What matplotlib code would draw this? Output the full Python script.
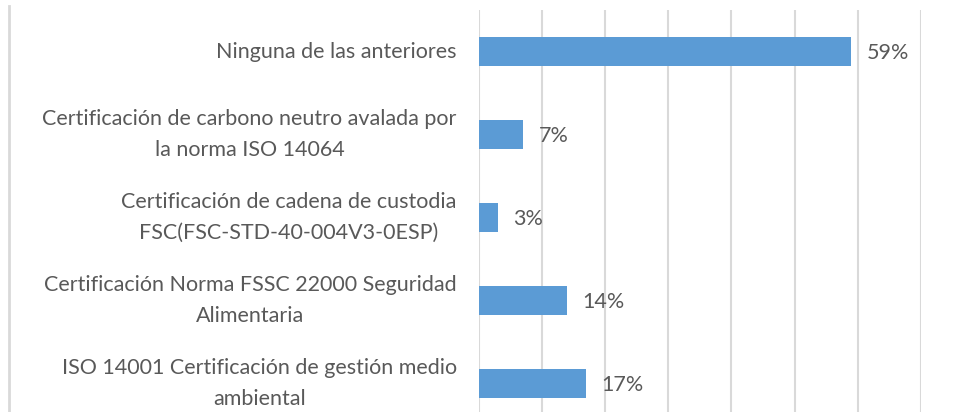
import numpy as np
import matplotlib.pyplot as plt
from matplotlib.lines import Line2D

categories = [
    "Ninguna de las anteriores",
    "Certificación de carbono neutro avalada por\nla norma ISO 14064",
    "Certificación de cadena de custodia\nFSC(FSC-STD-40-004V3-0ESP)",
    "Certificación Norma FSSC 22000 Seguridad\nAlimentaria",
    "ISO 14001 Certificación de gestión medio\nambiental",
]
values = [0.59, 0.07, 0.03, 0.14, 0.17]
value_labels = ["59%", "7%", "3%", "14%", "17%"]

BAR = '#5B9BD5'; GRID = '#D9D9D9'; TXT = '#595959'
plt.rcParams['font.family'] = 'Lato'
FS = 15.5

fig = plt.figure(figsize=(9.59, 4.12), dpi=100)
ax = fig.add_axes([479 / 959, 0, (920.7 - 479) / 959, 1 - 10 / 412])

y = np.arange(len(categories))
ax.barh(y, values, height=0.35, color=BAR, zorder=3)
for yi, v, s in zip(y, values, value_labels):
    ax.annotate(s, (v, yi), xytext=(11, -1), textcoords='offset points',
                va='center', ha='left', fontsize=FS, color=TXT)

ax.set_xlim(0, 0.70)
ax.set_ylim((412 - 51.5) / 83, -0.5)
ax.set_xticks(np.arange(0, 0.71, 0.10))
ax.set_xticklabels([])
ax.grid(axis='x', color=GRID, lw=1.5, zorder=0)
ax.tick_params(axis='x', length=0)
ax.set_yticks([])
for sp in ax.spines.values():
    sp.set_visible(False)

# category labels: each line drawn separately, centred on the widest line,
# whose right edge sits 16 pt left of the axis
r = fig.canvas.get_renderer()
right = ax.transAxes.transform((0, 0))[0] - 16 * fig.dpi / 72
lh = FS * 1.45 * fig.dpi / 72
for yi, c in zip(y, categories):
    lines = c.split('\n')
    yc = ax.transData.transform((0, yi))[1]
    tmp = [fig.text(0, 0, s, fontsize=FS) for s in lines]
    w = max(t.get_window_extent(r).width for t in tmp)
    for t in tmp:
        t.remove()
    xc = right - w / 2
    for k, s in enumerate(lines):
        yy = yc + ((len(lines) - 1) / 2 - k) * lh
        fig.text(xc / fig.bbox.width, yy / fig.bbox.height, s, ha='center', va='center',
                 fontsize=FS, color=TXT)

# chart-area border (only the left edge is visible in the crop)
fig.add_artist(Line2D([9 / 959, 9 / 959], [0, 1 - 6 / 412], color=GRID, lw=2))

fig.savefig('out.png', dpi=100)
